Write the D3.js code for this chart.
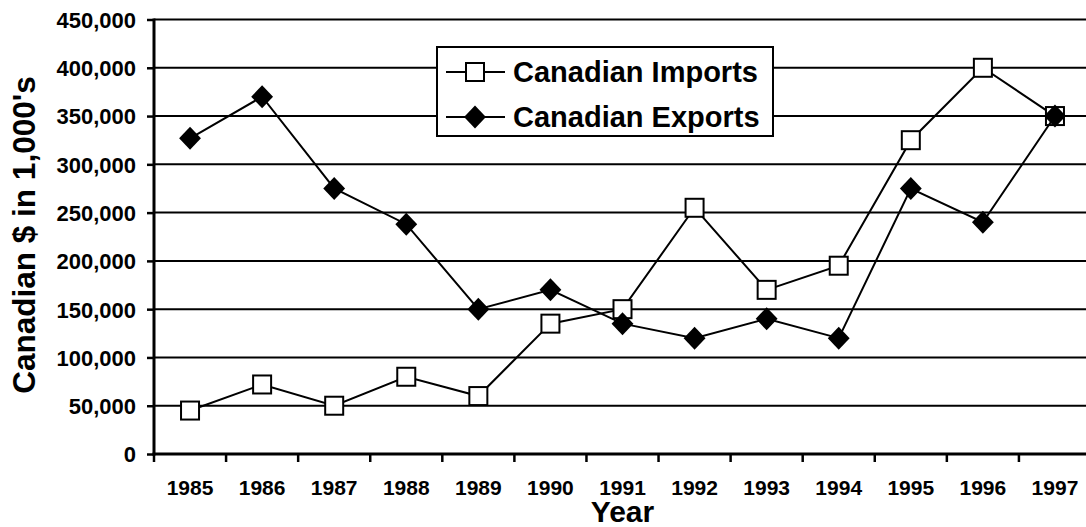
<!DOCTYPE html>
<html>
<head>
    <meta charset="utf-8">
    <title>Canadian Imports and Exports</title>
    <script src="https://d3js.org/d3.v7.min.js" charset="utf-8"></script>
</head>
<body>
    <style>
        html, body { margin: 0; padding: 0; background: #fff; }
        svg text { font-family: Arial, "Liberation Sans", sans-serif; font-weight: bold; fill: #000; }
    </style>
    <div id="chart"></div>
    <script>
// data
const years = ["1985","1986","1987","1988","1989","1990","1991","1992","1993","1994","1995","1996","1997"];
const imports = [45000, 72000, 50000, 80000, 60000, 135000, 150000, 255000, 170000, 195000, 325000, 400000, 350000];
const exports = [327000, 370000, 275000, 238000, 150000, 170000, 135000, 120000, 140000, 120000, 275000, 240000, 350000];
const yTicks = [0, 50000, 100000, 150000, 200000, 250000, 300000, 350000, 400000, 450000];
const seriesNames = ["Canadian Imports", "Canadian Exports"];

const width = 1086, height = 527;
const plotLeft = 154, plotRight = 1091, plotTop = 19.5, plotBottom = 454;

const svg = d3.select("#chart").append("svg")
    .attr("width", width)
    .attr("height", height);

const x = d3.scaleBand().domain(years).range([plotLeft, plotRight]);
const y = d3.scaleLinear().domain([0, 450000]).range([plotBottom, plotTop]);

// horizontal gridlines
svg.append("g").selectAll("line")
    .data(yTicks.filter(d => d > 0))
    .enter().append("line")
    .attr("x1", plotLeft).attr("x2", plotRight)
    .attr("y1", d => y(d)).attr("y2", d => y(d))
    .attr("stroke", "#000").attr("stroke-width", 2);

// y axis
const yAxis = svg.append("g")
    .attr("transform", `translate(${plotLeft},0)`)
    .call(d3.axisLeft(y).tickValues(yTicks).tickSize(7).tickPadding(11)
        .tickFormat(d3.format(",")));
yAxis.select(".domain").remove();
yAxis.selectAll(".tick line").attr("stroke", "#000").attr("stroke-width", 2.5);
yAxis.selectAll("text").attr("font-size", 22).attr("dy", "0.36em")
    .attr("font-family", "Arial, 'Liberation Sans', sans-serif");

// x axis ticks between categories
const bounds = years.map(d => x(d)).concat([plotRight]);
svg.append("g").selectAll("line")
    .data(bounds)
    .enter().append("line")
    .attr("x1", d => d).attr("x2", d => d)
    .attr("y1", plotBottom).attr("y2", plotBottom + 8)
    .attr("stroke", "#000").attr("stroke-width", 2.5);

svg.append("g").selectAll("text")
    .data(years)
    .enter().append("text")
    .attr("x", d => x(d) + x.bandwidth() / 2)
    .attr("y", 495)
    .attr("text-anchor", "middle")
    .attr("font-size", 21)
    .text(d => d);

// axis lines
svg.append("line")
    .attr("x1", plotLeft).attr("x2", plotLeft).attr("y1", plotTop - 1).attr("y2", plotBottom + 1.5)
    .attr("stroke", "#000").attr("stroke-width", 3);
svg.append("line")
    .attr("x1", plotLeft - 1.5).attr("x2", plotRight).attr("y1", plotBottom).attr("y2", plotBottom)
    .attr("stroke", "#000").attr("stroke-width", 3);

// axis titles
svg.append("text")
    .attr("x", (plotLeft + plotRight) / 2)
    .attr("y", 522)
    .attr("text-anchor", "middle")
    .attr("font-size", 30)
    .text("Year");

svg.append("text")
    .attr("transform", "translate(35,235) rotate(-90)")
    .attr("text-anchor", "middle")
    .attr("font-size", 31.5)
    .text("Canadian $ in 1,000's");

// series
const cx = (d, i) => x(years[i]) + x.bandwidth() / 2;
const line = d3.line().x(cx).y(d => y(d));
const diamond = s => `M0,${-s}L${s * 0.95},0L0,${s}L${-s * 0.95},0Z`;

svg.append("path").datum(imports)
    .attr("d", line).attr("fill", "none")
    .attr("stroke", "#000").attr("stroke-width", 2);
svg.append("g").selectAll("rect")
    .data(imports)
    .enter().append("rect")
    .attr("x", (d, i) => cx(d, i) - 9)
    .attr("y", d => y(d) - 9)
    .attr("width", 18).attr("height", 18)
    .attr("fill", "#fff").attr("stroke", "#000").attr("stroke-width", 2);

svg.append("path").datum(exports)
    .attr("d", line).attr("fill", "none")
    .attr("stroke", "#000").attr("stroke-width", 2);
svg.append("g").selectAll("path")
    .data(exports)
    .enter().append("path")
    .attr("transform", (d, i) => `translate(${cx(d, i)},${y(d)})`)
    .attr("d", diamond(11.5))
    .attr("fill", "#000");

// legend
const legend = svg.append("g");
legend.append("rect")
    .attr("x", 437).attr("y", 47)
    .attr("width", 336).attr("height", 89)
    .attr("fill", "#fff").attr("stroke", "#000").attr("stroke-width", 2);
const rows = [72, 117];
seriesNames.forEach(function (name, i) {
    const g = legend.append("g").attr("transform", `translate(0,${rows[i]})`);
    g.append("line").attr("x1", 446).attr("x2", 505).attr("y1", 0).attr("y2", 0)
        .attr("stroke", "#000").attr("stroke-width", 2);
    if (i === 0) {
        g.append("rect").attr("x", 466).attr("y", -9).attr("width", 18).attr("height", 18)
            .attr("fill", "#fff").attr("stroke", "#000").attr("stroke-width", 2);
    } else {
        g.append("path").attr("transform", "translate(475,0)").attr("d", diamond(11.5)).attr("fill", "#000");
    }
    g.append("text").attr("x", 513).attr("y", 10)
        .attr("font-size", 29)
        .text(name);
});
    </script>
</body>
</html>
